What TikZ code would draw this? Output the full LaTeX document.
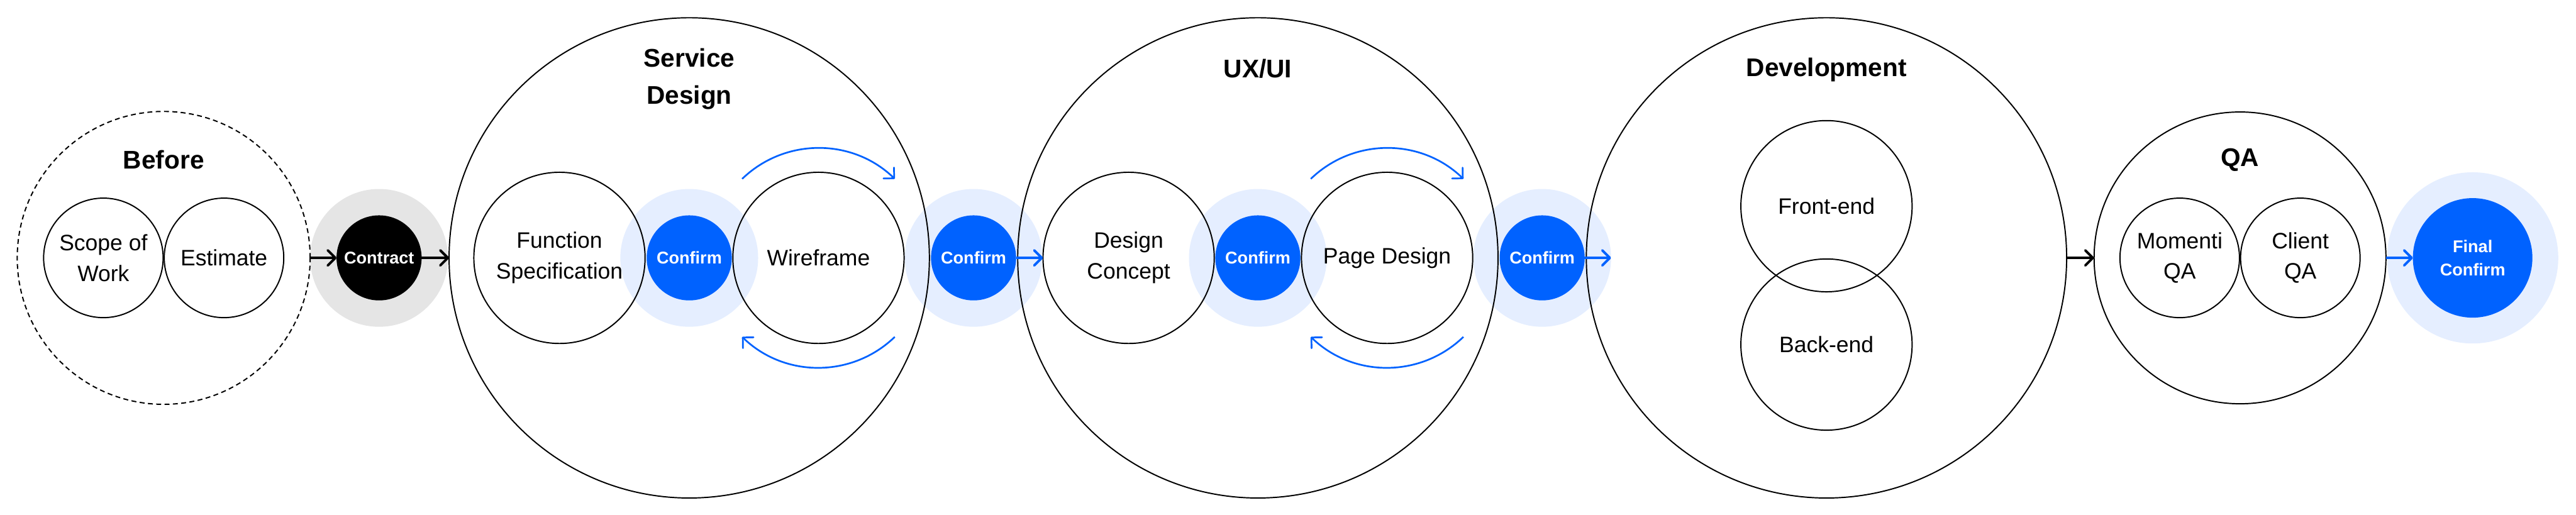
\documentclass[tikz,border=0pt]{standalone}
\usepackage{fontspec}
\setmainfont{Liberation Sans}
\usetikzlibrary{arrows.meta}
\definecolor{cblue}{RGB}{0,98,255}
\definecolor{chalo}{RGB}{229,238,255}
\definecolor{cgray}{RGB}{229,229,229}
\begin{document}
\begin{tikzpicture}[>={Straight Barb[length=4pt,width=8pt,round]},
  ring/.style={circle, draw, line width=0.65pt, inner sep=0pt, outer sep=0pt, align=center, font=\fontsize{11.8}{16.2}\selectfont},
  halo/.style={circle, fill=#1, inner sep=0pt, outer sep=0pt, minimum size=2.56cm},
  dot/.style={circle, fill=#1, text=white, inner sep=0pt, outer sep=0pt, minimum size=1.58cm, align=center, font=\fontsize{9}{12.2}\selectfont\bfseries},
  phase/.style={align=center, font=\fontsize{13.5}{19.6}\selectfont\bfseries},
  flow/.style={->, line width=1.3pt},
  turn/.style={->, cblue, line width=0.9pt}]
 \useasboundingbox (0,-4.77) rectangle (47.84,4.79);
 % halos
 \node[halo=cgray] (ctH) at (7.04,0) {};
 \node[halo=chalo] (c1H) at (12.80,0) {};
 \node[halo=chalo] (c2H) at (18.08,0) {};
 \node[halo=chalo] (c3H) at (23.36,0) {};
 \node[halo=chalo] (c4H) at (28.64,0) {};
 \node[halo=chalo, minimum size=3.18cm] (fcH) at (45.92,0) {};
 % phases
 \node[ring, dash pattern=on 2.6pt off 1.8pt, minimum size=5.44cm] (before) at (3.04,0) {};
 \node[ring, minimum size=8.92cm] (sd) at (12.80,0) {};
 \node[ring, minimum size=8.92cm] (ux) at (23.36,0) {};
 \node[ring, minimum size=8.92cm] (dev) at (33.92,0) {};
 \node[ring, minimum size=5.42cm] (qa) at (41.60,0) {};
 \node[phase] (beforeT) at (3.04,1.82) {Before};
 \node[phase] (sdT) at (12.80,3.32) {Service\\Design};
 \node[phase] (uxT) at (23.36,3.52) {UX/UI};
 \node[phase] (devT) at (33.92,3.49) {Development};
 \node[phase] (qaT) at (41.60,1.82) {QA};
 % steps
 \node[ring, minimum size=2.22cm] (scope) at (1.92,0) {Scope of\\Work};
 \node[ring, minimum size=2.22cm] (est) at (4.16,0) {Estimate};
 \node[ring, minimum size=3.18cm] (fs) at (10.39,0) {Function\\Specification};
 \node[ring, minimum size=3.18cm] (wire) at (15.20,0) {Wireframe};
 \node[ring, minimum size=3.18cm] (dc) at (20.96,0) {Design\\Concept};
 \node[ring, minimum size=3.18cm] (pd) at (25.76,0) {Page Design};
 \node[ring, minimum size=3.18cm] (fe) at (33.92,0.96) {Front-end};
 \node[ring, minimum size=3.18cm] (be) at (33.92,-1.61) {Back-end};
 \node[ring, minimum size=2.22cm] (mqa) at (40.48,0) {Momenti\\QA};
 \node[ring, minimum size=2.22cm] (cqa) at (42.72,0) {Client\\QA};
 % checkpoints
 \node[dot=black] (ct) at (7.04,0) {Contract};
 \node[dot=cblue] (c1) at (12.80,0) {Confirm};
 \node[dot=cblue] (c2) at (18.08,0) {Confirm};
 \node[dot=cblue] (c3) at (23.36,0) {Confirm};
 \node[dot=cblue] (c4) at (28.64,0) {Confirm};
 \node[dot=cblue, minimum size=2.22cm] (fc) at (45.92,0) {Final\\Confirm};
 % flow
 \draw[flow] (before.east) -- (ct.west);
 \draw[flow] (ct.east) -- (sd.west);
 \draw[flow, cblue] (c2.east) -- (dc.west);
 \draw[flow, cblue] (c4.east) -- (c4H.east);
 \draw[flow] (dev.east) -- (qa.west);
 \draw[flow, cblue] (qa.east) -- (fc.west);
 \foreach \n in {wire,pd} {
  \draw[turn] ([shift={(134:2.04)}]\n.center) arc[start angle=134, end angle=46, radius=2.04];
  \draw[turn] ([shift={(-46:2.04)}]\n.center) arc[start angle=-46, end angle=-134, radius=2.04];
 }
\end{tikzpicture}
\end{document}
